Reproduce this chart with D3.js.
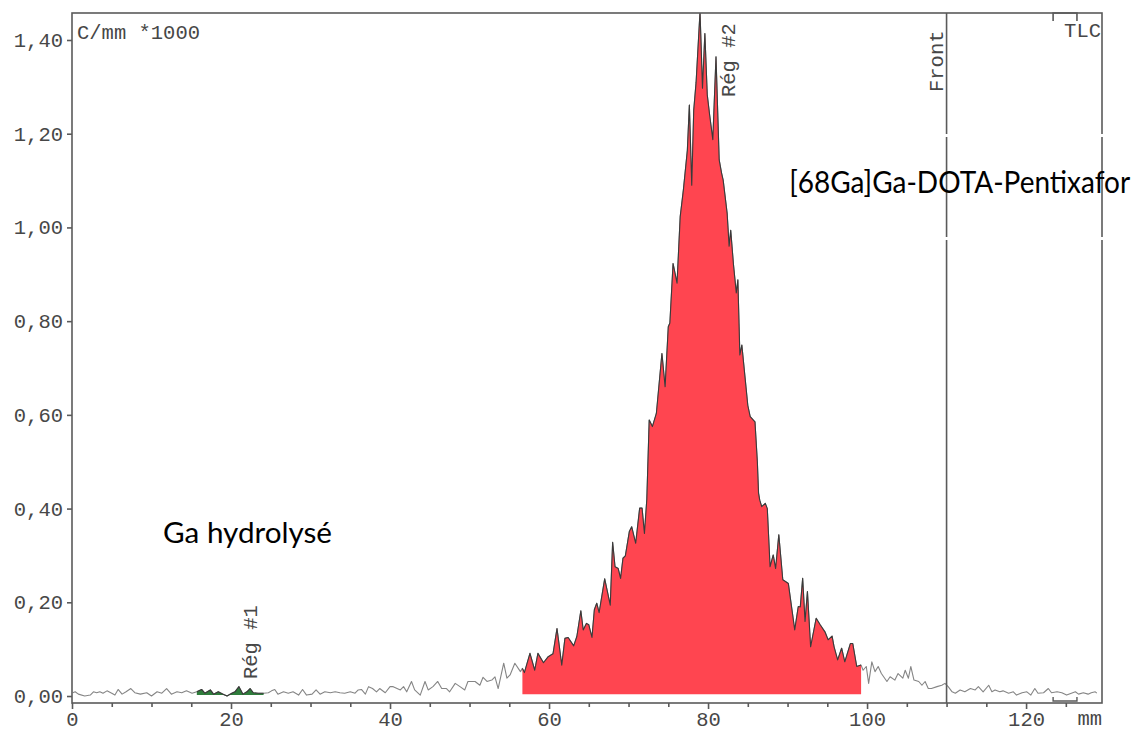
<!DOCTYPE html>
<html>
<head>
<meta charset="utf-8">
<script src="https://cdn.jsdelivr.net/npm/d3@7"></script>
<style>
  html, body { margin: 0; padding: 0; background: #ffffff; }
  svg { display: block; }
</style>
</head>
<body>
<svg id="chart" width="1146" height="731"></svg>
<script>
// Radio-TLC scan: counts per mm along the plate
const distanceMm = [
  0.1, 0.4, 0.8, 1.6, 2.3, 2.7, 3.1, 3.5, 3.9, 4.4, 5.0, 5.4, 5.8, 6.3, 6.8, 7.4, 7.9, 8.6, 9.4, 10.0,
  10.7, 11.3, 11.9, 12.5, 13.2, 13.8, 14.4, 15.1, 15.7, 16.3, 16.7, 17.4, 17.8, 18.4, 19.0, 19.5, 20.1, 20.5, 21.0, 21.5,
  22.0, 22.4, 22.8, 23.4, 24.1, 24.7, 25.1, 25.5, 25.9, 26.6, 27.2, 27.8, 28.5, 29.0, 29.5, 30.2, 30.7, 31.2, 31.8, 32.5,
  33.1, 33.7, 34.3, 35.0, 35.6, 36.0, 36.4, 36.9, 37.3, 37.8, 38.3, 38.7, 39.4, 40.0, 40.4, 41.3, 41.7, 42.1, 42.7, 43.1,
  43.8, 44.4, 44.8, 45.4, 46.0, 46.5, 47.1, 47.5, 48.2, 48.8, 49.4, 49.8, 50.7, 51.3, 51.7, 52.2, 52.8, 53.2, 53.6, 54.3,
  54.7, 55.1, 55.7, 56.4, 56.65, 56.9, 57.6, 58.2, 58.6, 59.3, 59.9, 60.5, 61.0, 61.6, 62.0, 62.4, 63.1, 63.5, 64.0, 64.3,
  64.7, 65.0, 65.4, 65.7, 66.0, 66.3, 67.0, 67.7, 68.0, 68.3, 68.7, 69.0, 69.3, 69.6, 70.1, 70.4, 70.9, 71.4, 71.7, 72.0,
  72.3, 72.6, 73.0, 73.5, 74.2, 74.6, 75.0, 75.2, 75.6, 76.1, 76.5, 76.9, 77.4, 77.65, 77.95, 78.2, 78.5, 78.99, 79.3, 79.6,
  79.9, 80.2, 80.6, 81.0, 81.4, 81.7, 81.9, 82.4, 82.65, 82.85, 83.2, 83.55, 83.75, 84.0, 84.25, 84.65, 85.0, 85.3, 85.9, 86.2,
  86.35, 86.5, 86.75, 87.2, 87.45, 87.8, 88.2, 88.5, 88.9, 89.4, 90.1, 90.9, 91.35, 91.6, 91.9, 92.2, 92.5, 92.9, 93.6, 94.1,
  94.7, 95.1, 95.6, 95.85, 96.3, 96.8, 97.2, 97.9, 98.2, 98.7, 99.25, 99.5, 99.9, 100.2, 100.6, 101.0, 101.4, 101.8, 102.5, 102.9,
  103.5, 103.9, 104.5, 104.8, 105.2, 105.5, 105.9, 106.5, 106.9, 107.3, 107.7, 108.1, 108.8, 109.4, 109.8, 110.2, 110.7, 111.1, 111.7, 112.3,
  113.0, 113.6, 114.0, 114.6, 115.3, 115.7, 116.1, 116.7, 117.1, 117.8, 118.4, 118.8, 119.5, 120.1, 120.6, 121.1, 121.5, 122.2, 122.8, 123.2,
  123.9, 124.5, 125.1, 125.7, 126.2, 126.6, 127.2, 127.8, 128.2, 128.7, 128.9
];
const countsPerMm = [
  0.007, 0.009, 0.004, 0.000, 0.002, 0.009, 0.007, 0.009, 0.006, 0.011, 0.006, 0.002, 0.014, 0.004, 0.009, 0.016, 0.007, 0.004, 0.007, 0.000,
  0.009, 0.006, 0.016, 0.004, 0.009, 0.007, 0.011, 0.006, 0.009, 0.014, 0.006, 0.013, 0.004, 0.009, 0.004, 0.000, 0.006, 0.009, 0.020, 0.004,
  0.009, 0.016, 0.007, 0.006, 0.006, 0.007, 0.011, 0.014, 0.004, 0.009, 0.006, 0.009, 0.002, 0.014, 0.002, 0.004, 0.013, 0.004, 0.009, 0.007,
  0.009, 0.007, 0.006, 0.009, 0.006, 0.013, 0.014, 0.004, 0.020, 0.016, 0.009, 0.016, 0.007, 0.020, 0.020, 0.013, 0.020, 0.009, 0.031, 0.013,
  0.002, 0.031, 0.013, 0.020, 0.031, 0.016, 0.016, 0.009, 0.027, 0.020, 0.013, 0.031, 0.031, 0.023, 0.040, 0.031, 0.034, 0.041, 0.016, 0.070,
  0.038, 0.045, 0.070, 0.052, 0.059, 0.050, 0.091, 0.055, 0.091, 0.071, 0.084, 0.090, 0.144, 0.066, 0.123, 0.125, 0.107, 0.127, 0.182, 0.141,
  0.155, 0.152, 0.125, 0.184, 0.198, 0.178, 0.250, 0.194, 0.328, 0.276, 0.272, 0.251, 0.294, 0.299, 0.351, 0.361, 0.326, 0.401, 0.401, 0.347,
  0.420, 0.589, 0.575, 0.603, 0.731, 0.660, 0.788, 0.796, 0.923, 0.881, 1.023, 1.080, 1.165, 1.261, 1.090, 1.250, 1.310, 1.460, 1.297, 1.414,
  1.283, 1.240, 1.187, 1.364, 1.144, 1.116, 1.101, 1.030, 0.960, 0.994, 0.920, 0.860, 0.888, 0.728, 0.749, 0.680, 0.620, 0.596, 0.585, 0.500,
  0.433, 0.418, 0.404, 0.411, 0.400, 0.276, 0.301, 0.272, 0.344, 0.248, 0.240, 0.141, 0.191, 0.190, 0.251, 0.159, 0.223, 0.105, 0.166, 0.152,
  0.137, 0.120, 0.128, 0.105, 0.077, 0.102, 0.073, 0.112, 0.112, 0.063, 0.066, 0.055, 0.063, 0.027, 0.073, 0.052, 0.063, 0.048, 0.031, 0.041,
  0.034, 0.048, 0.038, 0.055, 0.038, 0.063, 0.034, 0.031, 0.023, 0.031, 0.016, 0.016, 0.020, 0.023, 0.027, 0.020, 0.009, 0.006, 0.013, 0.009,
  0.016, 0.013, 0.020, 0.009, 0.023, 0.009, 0.013, 0.009, 0.011, 0.006, 0.009, 0.002, 0.007, 0.009, 0.002, 0.016, 0.006, 0.007, 0.016, 0.007,
  0.009, 0.007, 0.002, 0.006, 0.009, 0.004, 0.007, 0.004, 0.007, 0.009, 0.006
];

// Integration regions
const regionNames = ["Rég #1", "Rég #2"];
const regionStartMm = [15.7, 56.65];
const regionEndMm = [24.1, 99.25];
const regionBaseline = [0.002, 0.004];

// Axes
const xTickValues = [0, 20, 40, 60, 80, 100, 120];
const xMinorTickValues = [5, 10, 15, 25, 30, 35, 45, 50, 55, 65, 70, 75, 85, 90, 95, 105, 110, 115, 125];
const yTickValues = [0, 0.2, 0.4, 0.6, 0.8, 1.0, 1.2, 1.4];
const yUnitLabel = "C/mm *1000";
const xUnitLabel = "mm";

// Plate markers and species
const frontMm = 110;
const frontLabel = "Front";
const plateLabel = "TLC";
const plateMarkMm = [123.4, 126.4];
const speciesNames = ["Ga hydrolysé", "[68Ga]Ga-DOTA-Pentixafor"];

// ---- drawing ----
const plotL = 72, plotR = 1102, plotT = 13, plotB = 703;
const monoFont = "'Liberation Mono', 'Courier New', monospace";
const textGrey = "#474747";
const frameGrey = "#5a5a5a";
const regionFill = ["#2f7d3c", "#ff4550"];

const svg = d3.select("#chart");
const x = d3.scaleLinear().domain([0, 129.55]).range([plotL, plotR]);
const y = d3.scaleLinear().domain([-0.0149, 1.4576]).range([plotB, plotT]);

const profile = distanceMm.map((d, i) => ({ mm: d, v: countsPerMm[i] }));

svg.append("defs").append("clipPath").attr("id", "plotClip")
  .append("rect").attr("x", plotL).attr("y", plotT)
  .attr("width", plotR - plotL).attr("height", plotB - plotT);

const plot = svg.append("g").attr("clip-path", "url(#plotClip)");

// full profile trace
const line = d3.line().x(d => x(d.mm)).y(d => y(d.v));
plot.append("path").datum(profile)
  .attr("d", line)
  .attr("fill", "none")
  .attr("stroke", "#858585")
  .attr("stroke-width", 1.1)
  .attr("stroke-linejoin", "round");

// filled integration regions
regionNames.forEach((name, r) => {
  const pts = profile.filter(p => p.mm >= regionStartMm[r] - 1e-6 && p.mm <= regionEndMm[r] + 1e-6);
  const area = d3.area().x(d => x(d.mm)).y0(y(regionBaseline[r])).y1(d => y(d.v));
  plot.append("path").datum(pts)
    .attr("d", area)
    .attr("fill", regionFill[r]);
  plot.append("path").datum(pts)
    .attr("d", line)
    .attr("fill", "none")
    .attr("stroke", "#3a3a3a")
    .attr("stroke-width", 1.1)
    .attr("stroke-linejoin", "round");
});

// solvent front
svg.append("line")
  .attr("x1", x(frontMm)).attr("x2", x(frontMm))
  .attr("y1", plotT).attr("y2", plotB)
  .attr("stroke", frameGrey).attr("stroke-width", 1.6);

// frame
svg.append("rect")
  .attr("x", plotL).attr("y", plotT)
  .attr("width", plotR - plotL).attr("height", plotB - plotT)
  .attr("fill", "none").attr("stroke", frameGrey).attr("stroke-width", 1.6);

// x axis
const xAxis = svg.append("g").attr("transform", `translate(0,${plotB})`)
  .call(d3.axisBottom(x).tickValues(xTickValues).tickSize(6).tickPadding(2).tickFormat(d3.format("d")));
const xMinor = svg.append("g").attr("transform", `translate(0,${plotB})`)
  .call(d3.axisBottom(x).tickValues(xMinorTickValues).tickSize(4).tickFormat(""));
[xAxis, xMinor].forEach(g => {
  g.select(".domain").remove();
  g.selectAll("line").attr("stroke", frameGrey).attr("stroke-width", 1.6);
});
xAxis.selectAll("text")
  .attr("font-family", monoFont).attr("font-size", 20.5).attr("fill", textGrey);

svg.append("text")
  .attr("x", plotR).attr("y", 725)
  .attr("text-anchor", "end")
  .attr("font-family", monoFont).attr("font-size", 20.5).attr("fill", textGrey)
  .text(xUnitLabel);

// y axis
const yFmt = d => d3.format(".2f")(d).replace(".", ",");
const yAxis = svg.append("g").attr("transform", `translate(${plotL},0)`)
  .call(d3.axisLeft(y).tickValues(yTickValues).tickSize(5).tickPadding(4).tickFormat(yFmt));
yAxis.select(".domain").remove();
yAxis.selectAll("line").attr("stroke", frameGrey).attr("stroke-width", 1.6);
yAxis.selectAll("text")
  .attr("font-family", monoFont).attr("font-size", 20.5).attr("fill", textGrey);

svg.append("text")
  .attr("x", plotL + 5).attr("y", 38.5)
  .attr("font-family", monoFont).attr("font-size", 20.5).attr("fill", textGrey)
  .text(yUnitLabel);

// plate marker brackets
const bx0 = x(plateMarkMm[0]), bx1 = x(plateMarkMm[1]);
svg.append("path")
  .attr("d", `M${bx0},${plotT + 8}V${plotT}H${bx1}V${plotT + 8}`)
  .attr("fill", "none").attr("stroke", frameGrey).attr("stroke-width", 1.6);
svg.append("path")
  .attr("d", `M${bx0},${plotB - 6}V${plotB - 2}H${bx1}V${plotB - 6}`)
  .attr("fill", "none").attr("stroke", frameGrey).attr("stroke-width", 1.4);
svg.append("text")
  .attr("x", plotR - 1).attr("y", 37)
  .attr("text-anchor", "end")
  .attr("font-family", monoFont).attr("font-size", 20.5).attr("fill", textGrey)
  .text(plateLabel);

// rotated labels
function vLabel(px, py, txt) {
  svg.append("text")
    .attr("transform", `translate(${px},${py}) rotate(-90)`)
    .attr("font-family", monoFont).attr("font-size", 20.5).attr("fill", textGrey)
    .text(txt);
}
vLabel(x(frontMm) - 4, 92, frontLabel);
vLabel(x(23.3), 679, regionNames[0]);
vLabel(x(83.4), 97, regionNames[1]);

// species annotations
const sansFont = "Lato, 'Open Sans', sans-serif";
svg.append("text")
  .attr("x", x(11.45)).attr("y", 543)
  .attr("font-family", sansFont).attr("font-size", 28).attr("fill", "#000")
  .attr("textLength", 169).attr("lengthAdjust", "spacingAndGlyphs")
  .text(speciesNames[0]);

// the product label sits in a text box whose white outline breaks the lines it crosses
const boxX0 = x(86.0), boxX1 = 1143;
svg.append("rect")
  .attr("x", boxX0).attr("y", 135.5)
  .attr("width", boxX1 - boxX0).attr("height", 103)
  .attr("fill", "none").attr("stroke", "#ffffff").attr("stroke-width", 3);
svg.append("text")
  .attr("x", x(90.2)).attr("y", 193)
  .attr("font-family", sansFont).attr("font-size", 30).attr("fill", "#000")
  .attr("textLength", 341).attr("lengthAdjust", "spacingAndGlyphs")
  .text(speciesNames[1]);
</script>
</body>
</html>
